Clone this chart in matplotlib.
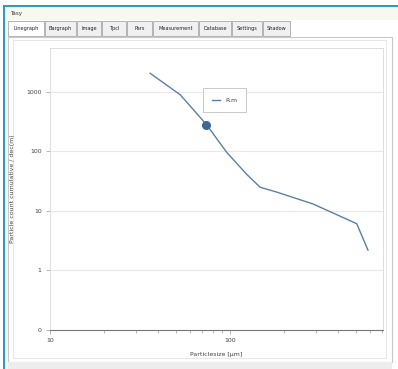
import numpy as np
import matplotlib
matplotlib.use("Agg")
import matplotlib.pyplot as plt
from matplotlib.patches import Rectangle
from matplotlib.ticker import FixedLocator, LogLocator, NullFormatter

# data
size_um = [36, 53, 74, 96, 124, 147, 182, 289, 506, 584]
count_cum = [2050, 890, 282, 96, 41, 25, 20.7, 13.1, 6.1, 2.2]
marker_x = 74
marker_y = 282
series_name = "R.m"

y_ticks = [0.1, 1, 10, 100, 1000]
y_labels = ["0", "1", "10", "100", "1000"]
x_ticks = [10, 100]
x_labels = ["10", "100"]

tabs = ["Linegraph", "Bargraph", "Image", "Tpcl", "Pars", "Measurement",
        "Database", "Settings", "Shadow"]
tab_x = [8, 45, 77, 102, 127, 153, 199, 232, 263, 291]

W, H = 398, 369
fig = plt.figure(figsize=(W / 100, H / 100), dpi=100)
fig.patch.set_facecolor("white")

# window chrome drawn in pixel coords
bg = fig.add_axes([0, 0, 1, 1])
bg.set_xlim(0, W)
bg.set_ylim(H, 0)
bg.axis("off")
bg.add_patch(Rectangle((3, 5), W - 3, 2, color="#2b9cc4", lw=0))
bg.add_patch(Rectangle((3, 5), 2, H - 5, color="#2b9cc4", lw=0))
bg.add_patch(Rectangle((5, 7), W - 5, 13, color="#f7f9ef", lw=0))
bg.text(10, 13.5, "Tasy", fontsize=4, color="#333333", va="center")
for i, name in enumerate(tabs):
    x0, x1 = tab_x[i], tab_x[i + 1] - 1
    face = "white" if i == 0 else "#f0f0f0"
    bg.add_patch(Rectangle((x0, 21), x1 - x0, 15, facecolor=face,
                           edgecolor="#a8a8a8", lw=0.6))
    bg.text((x0 + x1) / 2, 28.5, name, fontsize=3.6, color="#222222",
            ha="center", va="center")
bg.add_patch(Rectangle((8, 37), 384, 325, facecolor="white",
                       edgecolor="#c8c8c8", lw=0.8))
bg.add_patch(Rectangle((13, 40), 373, 318, facecolor="white",
                       edgecolor="#e4e4e4", lw=0.6))
bg.add_patch(Rectangle((8, 362), 384, 7, color="#ededed", lw=0))

# chart
left, right, top, bottom = 50, 383, 48, 330
ax = fig.add_axes([left / W, 1 - bottom / H, (right - left) / W, (bottom - top) / H])
ax.set_xscale("log")
ax.set_yscale("log")
ax.set_xlim(10, 708)
ax.set_ylim(0.1, 5450)

ax.plot(size_um, count_cum, color="#5b7fa6", lw=1.0, label=series_name)
ax.plot([marker_x], [marker_y], "o", color="#3d6799", ms=5.5, zorder=5)

ax.yaxis.set_major_locator(FixedLocator(y_ticks))
ax.set_yticklabels(y_labels)
ax.yaxis.set_minor_formatter(NullFormatter())
ax.yaxis.set_minor_locator(FixedLocator([]))
ax.xaxis.set_major_locator(FixedLocator(x_ticks))
ax.set_xticklabels(x_labels)
ax.xaxis.set_minor_locator(LogLocator(base=10, subs=np.arange(2, 10)))
ax.xaxis.set_minor_formatter(NullFormatter())

ax.grid(axis="y", which="major", color="#e8e8e8", lw=0.8)
for s in ["top", "right", "left"]:
    ax.spines[s].set_color("#dddddd")
    ax.spines[s].set_linewidth(0.7)
ax.spines["bottom"].set_color("#777777")
ax.spines["bottom"].set_linewidth(0.8)

ax.tick_params(axis="both", which="major", labelsize=4.5, labelcolor="#444444",
               color="#999999", length=3, width=0.5, pad=3)
ax.tick_params(axis="x", which="minor", color="#999999", length=2, width=0.5)
ax.set_xlabel("Particlesize [µm]", fontsize=4.5, color="#444444", labelpad=6)
ax.set_ylabel("Particle count cumulative / dec(m)", fontsize=4.5,
              color="#444444", labelpad=8)

leg = ax.legend(loc="upper left", bbox_to_anchor=(200 / W, 1 - 85 / H),
                bbox_transform=fig.transFigure, fontsize=4.5, frameon=True,
                fancybox=False, handlelength=1.2, borderpad=1.5,
                labelcolor="#444444")
leg.get_frame().set_edgecolor("#bbbbbb")
leg.get_frame().set_linewidth(0.7)

fig.savefig("out.png", dpi=100)
